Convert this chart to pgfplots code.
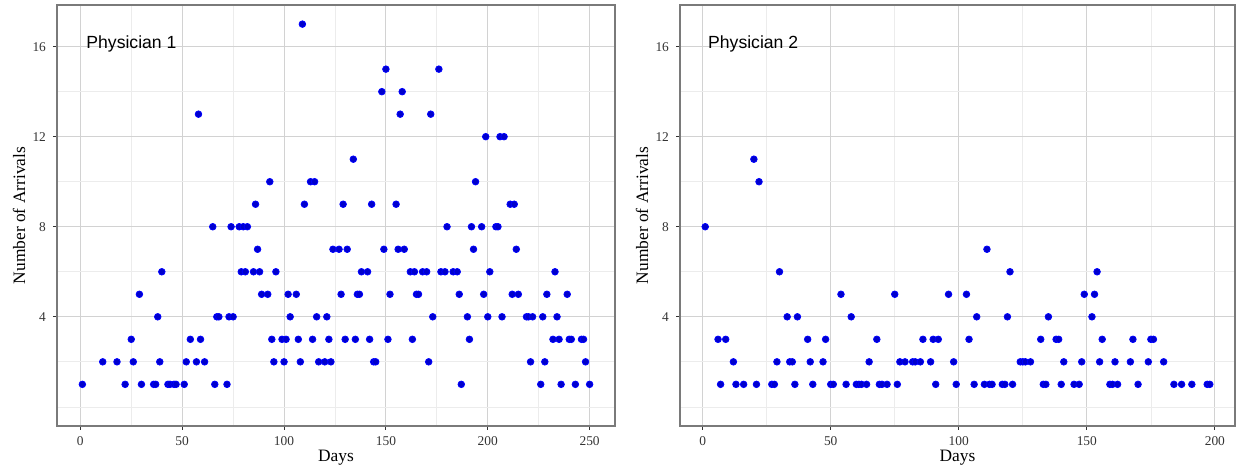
\documentclass[border=0pt]{standalone}
\usepackage{fontspec}
\setmainfont{Liberation Serif}
\newfontfamily\hel{Liberation Sans}
\usepackage{pgfplots}
\pgfplotsset{compat=1.18}

\definecolor{frame}{HTML}{7A7A7A}
\definecolor{tickc}{HTML}{333333}
\definecolor{gridmaj}{HTML}{D2D2D2}
\definecolor{gridmin}{HTML}{ECECEC}
\definecolor{pt}{HTML}{0000FF}

\pgfplotsset{
  panel/.style={
    scale only axis, height=210.5pt, anchor=south west,
    ymin=-0.85, ymax=17.85,
    ytick={4,8,12,16}, minor ytick={0,2,6,10,14},
    grid=both,
    major grid style={draw=gridmaj, line width=0.5pt},
    minor grid style={draw=gridmin, line width=0.35pt},
    axis line style={draw=frame, line width=0.8pt},
    tick align=outside, tick pos=left,
    major tick length=2pt, minor tick length=0pt,
    tick style={draw=tickc, line width=0.5pt},
    ticklabel style={font=\fontsize{6.7}{7}\selectfont, text=tickc},
    /pgf/number format/assume math mode=true,
    xlabel={Days}, ylabel={Number of Arrivals},
    every axis x label/.style={at={(axis description cs:0.5,0)}, anchor=center, yshift=-16pt, font=\fontsize{8.7}{9}\selectfont},
    every axis y label/.style={at={(axis description cs:0,0.5)}, anchor=center, rotate=90, yshift=19pt, font=\fontsize{8.7}{9}\selectfont},
    every axis plot/.append style={only marks, mark=*, mark size=1.65pt, color=pt},
  },
}

\begin{document}
\begin{tikzpicture}
\path[use as bounding box] (0,0) rectangle (619.5pt,234.5pt);

\begin{axis}[panel, at={(28.5pt,21.5pt)}, width=279pt,
  xmin=-11.45, xmax=262.45,
  xtick={0,50,...,250}, minor xtick={25,75,125,175,225}]
\addplot coordinates {
(1,1) (22,1) (30,1) (36,1) (37,1) (43,1) (44,1) (46,1) (47,1) (51,1) (66,1) (72,1) (187,1) (226,1) (236,1) (243,1) (250,1)
(11,2) (18,2) (26,2) (39,2) (52,2) (57,2) (61,2) (95,2) (100,2) (108,2) (117,2) (120,2) (123,2) (144,2) (145,2) (171,2) (221,2) (228,2) (248,2)
(25,3) (54,3) (59,3) (94,3) (99,3) (101,3) (107,3) (114,3) (122,3) (130,3) (135,3) (142,3) (151,3) (163,3) (191,3) (232,3) (235,3) (240,3) (241,3) (246,3) (247,3)
(38,4) (67,4) (68,4) (73,4) (75,4) (103,4) (116,4) (121,4) (173,4) (190,4) (200,4) (207,4) (219,4) (220,4) (222,4) (227,4) (234,4)
(29,5) (89,5) (92,5) (102,5) (106,5) (128,5) (136,5) (137,5) (152,5) (165,5) (166,5) (186,5) (198,5) (212,5) (215,5) (229,5) (239,5)
(40,6) (79,6) (81,6) (85,6) (88,6) (96,6) (138,6) (141,6) (162,6) (164,6) (168,6) (170,6) (177,6) (179,6) (183,6) (185,6) (201,6) (233,6)
(87,7) (124,7) (127,7) (131,7) (149,7) (156,7) (159,7) (193,7) (214,7)
(65,8) (74,8) (78,8) (80,8) (82,8) (180,8) (192,8) (197,8) (204,8) (205,8)
(86,9) (110,9) (129,9) (143,9) (155,9) (211,9) (213,9)
(93,10) (113,10) (115,10) (194,10)
(134,11)
(199,12) (206,12) (208,12)
(58,13) (157,13) (172,13)
(148,14) (158,14)
(150,15) (176,15)
(109,17)
};
\node[anchor=base west, inner sep=0pt, font=\hel\fontsize{8.8}{10}\selectfont] at (axis cs:2.8,15.9) {Physician 1};
\end{axis}

\begin{axis}[panel, at={(340pt,21.5pt)}, width=277.5pt,
  xmin=-8.85, xmax=207.85,
  xtick={0,50,...,200}, minor xtick={25,75,125,175}]
\addplot coordinates {
(7,1) (13,1) (16,1) (21,1) (27,1) (28,1) (36,1) (43,1) (50,1) (51,1) (56,1) (60,1) (61,1) (62,1) (64,1) (69,1) (70,1) (72,1) (76,1) (91,1) (99,1) (106,1) (110,1) (112,1) (113,1) (117,1) (118,1) (121,1) (133,1) (134,1) (140,1) (145,1) (147,1) (159,1) (160,1) (162,1) (170,1) (184,1) (187,1) (191,1) (197,1) (198,1)
(12,2) (29,2) (34,2) (35,2) (42,2) (47,2) (65,2) (77,2) (79,2) (82,2) (83,2) (85,2) (89,2) (98,2) (124,2) (125,2) (126,2) (128,2) (141,2) (148,2) (155,2) (161,2) (167,2) (174,2) (180,2)
(6,3) (9,3) (41,3) (48,3) (68,3) (86,3) (90,3) (92,3) (104,3) (132,3) (138,3) (139,3) (156,3) (168,3) (175,3) (176,3)
(33,4) (37,4) (58,4) (107,4) (119,4) (135,4) (152,4)
(54,5) (75,5) (96,5) (103,5) (149,5) (153,5)
(30,6) (120,6) (154,6)
(111,7)
(1,8)
(22,10)
(20,11)
};
\node[anchor=base west, inner sep=0pt, font=\hel\fontsize{8.8}{10}\selectfont] at (axis cs:2,15.9) {Physician 2};
\end{axis}
\end{tikzpicture}
\end{document}
